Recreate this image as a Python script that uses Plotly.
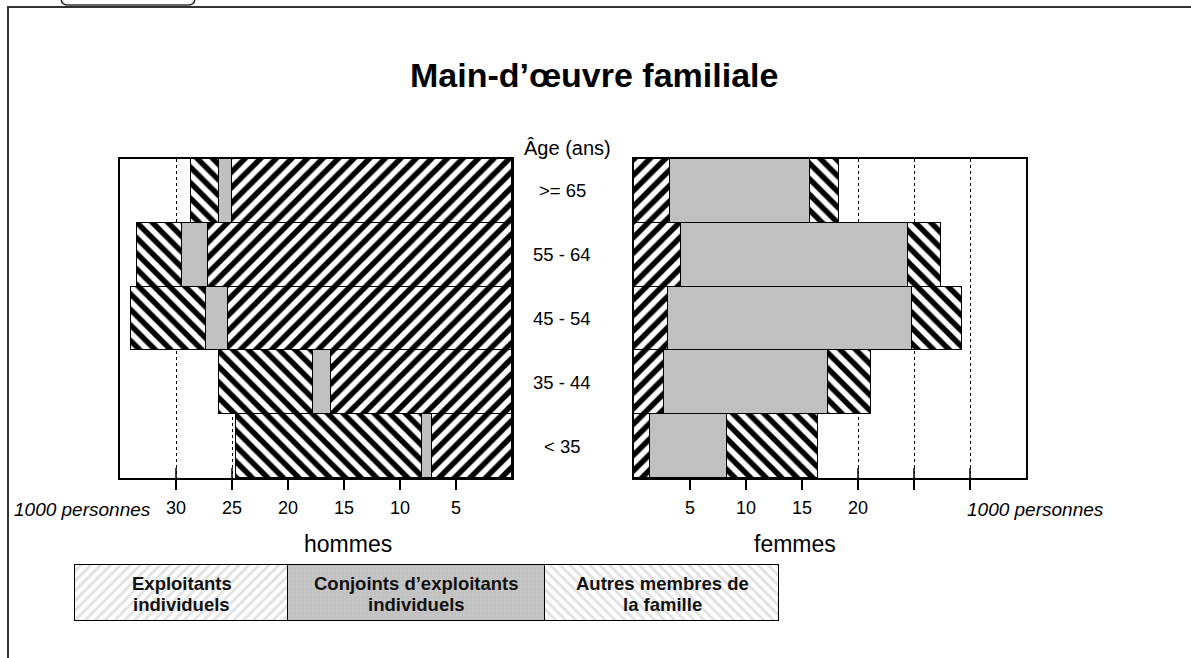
import plotly.graph_objects as go

W, H = 1191, 658

# ---------------- data (1000 personnes) ----------------
ages = ["< 35", "35 - 44", "45 - 54", "55 - 64", ">= 65"]
hommes_exploitants = [7.1, 16.2, 25.4, 27.1, 25.0]
hommes_conjoints = [0.9, 1.6, 1.9, 2.4, 1.2]
hommes_autres = [16.6, 8.4, 6.7, 4.0, 2.5]
femmes_exploitants = [1.4, 2.7, 3.0, 4.2, 3.2]
femmes_conjoints = [6.9, 14.6, 21.8, 20.3, 12.5]
femmes_autres = [8.1, 3.9, 4.5, 2.9, 2.6]

tick_vals = [5, 10, 15, 20, 25, 30]
hommes_tick_text = ["5", "10", "15", "20", "25", "30"]
femmes_tick_text = ["5", "10", "15", "20", "", ""]

legend_lines = [["Exploitants", "individuels"],
                ["Conjoints d\u2019exploitants", "individuels"],
                ["Autres membres de", "la famille"]]
legend_widths = [213, 257, 234]

FONT = "Liberation Sans, Arial, Helvetica, sans-serif"


def px(x):
    return x / W


def py(y):
    return 1 - y / H


fig = go.Figure()

hatch_fwd = dict(shape="/", fgcolor="black", bgcolor="white", size=11, solidity=0.5, fgopacity=1)
hatch_bwd = dict(shape="\\", fgcolor="black", bgcolor="white", size=11, solidity=0.5, fgopacity=1)
line = dict(color="black", width=1.5)

series = [
    ("Exploitants individuels", hommes_exploitants, femmes_exploitants, dict(pattern=hatch_fwd)),
    ("Conjoints d'exploitants individuels", hommes_conjoints, femmes_conjoints, dict(color="#c0c0c0")),
    ("Autres membres de la famille", hommes_autres, femmes_autres, dict(pattern=hatch_bwd)),
]

for name, hv, fv, style in series:
    fig.add_trace(go.Bar(y=ages, x=hv, orientation="h", name=name, xaxis="x", yaxis="y",
                         marker=dict(line=line, **style), showlegend=False, hoverinfo="skip"))
    fig.add_trace(go.Bar(y=ages, x=fv, orientation="h", name=name, xaxis="x2", yaxis="y2",
                         marker=dict(line=line, **style), showlegend=False, hoverinfo="skip"))

# legend as a patterned bar strip
leg_styles = [
    dict(pattern=dict(shape="/", fgcolor="#c4c4c4", bgcolor="white", size=7, solidity=0.4)),
    dict(pattern=dict(shape="+", fgcolor="#a4a4a4", bgcolor="#c6c6c6", size=4, solidity=0.15)),
    dict(pattern=dict(shape="\\", fgcolor="#c4c4c4", bgcolor="white", size=7, solidity=0.4)),
]
for lines_, wv, st in zip(legend_lines, legend_widths, leg_styles):
    fig.add_trace(go.Bar(y=["leg"], x=[wv], orientation="h", xaxis="x3", yaxis="y3",
                         marker=dict(line=line, **st), width=1,
                         showlegend=False, hoverinfo="skip"))

y_dom = [py(478), py(159)]
axis_common = dict(showline=True, mirror=True, linecolor="black", linewidth=1.5,
                   showgrid=True, gridcolor="black", griddash="dot", gridwidth=1,
                   tickvals=tick_vals, ticks="outside", ticklen=10, tickwidth=1.5,
                   tickcolor="black", zeroline=False, fixedrange=True,
                   tickfont=dict(family=FONT, size=18, color="black"),
                   ticklabelstandoff=3)
yaxis_common = dict(showline=True, mirror=True, linecolor="black", linewidth=1.5,
                    showgrid=False, showticklabels=False, ticks="", domain=y_dom,
                    categoryorder="array", categoryarray=ages, fixedrange=True)

leg_pad = 2  # px so that the cell borders are not clipped
fig.update_layout(
    width=W, height=H,
    margin=dict(l=0, r=0, t=0, b=0),
    paper_bgcolor="white", plot_bgcolor="white",
    barmode="stack", bargap=0,
    xaxis=dict(domain=[px(120), px(512)], range=[35, 0], ticktext=hommes_tick_text, **axis_common),
    yaxis=dict(anchor="x", **yaxis_common),
    xaxis2=dict(domain=[px(634), px(1026)], range=[0, 35], ticktext=femmes_tick_text, **axis_common),
    yaxis2=dict(anchor="x2", **yaxis_common),
    xaxis3=dict(domain=[px(75 - leg_pad), px(779 + leg_pad)],
                range=[-leg_pad, sum(legend_widths) + leg_pad], visible=False, fixedrange=True),
    yaxis3=dict(domain=[py(621 + leg_pad), py(565 - leg_pad)], anchor="x3",
                range=[-0.5 - leg_pad / 56, 0.5 + leg_pad / 56], visible=False, fixedrange=True),
    font=dict(family=FONT, color="black"),
)

# inner part of the tick marks
shapes = []
for v in tick_vals:
    for xr, yr in (("x", "y domain"), ("x2", "y2 domain")):
        shapes.append(dict(type="line", xref=xr, yref=yr, x0=v, x1=v, y0=0, y1=10 / 319,
                           line=dict(color="black", width=1.5), layer="below"))

# page frame
shapes.append(dict(type="path", xref="paper", yref="paper",
                   path=f"M {px(8)},{py(660)} L {px(8)},{py(7)} L {px(1195)},{py(7)}",
                   line=dict(color="#333333", width=2)))
# tab at top left
shapes.append(dict(type="path", xref="paper", yref="paper",
                   path=(f"M {px(61)},{py(-2)} Q {px(61)},{py(5)} {px(68)},{py(5)} "
                         f"L {px(188)},{py(5)} Q {px(195)},{py(5)} {px(195)},{py(-2)}"),
                   line=dict(color="#333333", width=1.5)))
fig.update_layout(shapes=shapes)

ann = [
    dict(text="<b>Main-d\u2019\u0153uvre familiale</b>", x=px(594), y=py(75), size=34),
    dict(text="\u00c2ge (ans)", x=px(567), y=py(148), size=20),
    dict(text="hommes", x=px(348), y=py(544), size=23),
    dict(text="femmes", x=px(795), y=py(544), size=23),
    dict(text="<i>1000 personnes</i>", x=px(82), y=py(509), size=19),
    dict(text="<i>1000 personnes</i>", x=px(1035), y=py(509), size=19),
]
annotations = [dict(text=a["text"], x=a["x"], y=a["y"], xref="paper", yref="paper",
                    showarrow=False, xanchor="center", yanchor="middle",
                    font=dict(family=FONT, size=a["size"], color="black")) for a in ann]
for a in ages:
    annotations.append(dict(text=a, x=px(562), y=a, xref="paper", yref="y", showarrow=False,
                            xanchor="center", yanchor="middle",
                            font=dict(family=FONT, size=18.5, color="black")))
# legend texts
left = 75
for lines_, wv in zip(legend_lines, legend_widths):
    cx = left + wv / 2
    for k, t in enumerate(lines_):
        annotations.append(dict(text="<b>" + t + "</b>", x=px(cx), y=py(583 + 21 * k),
                                xref="paper", yref="paper", showarrow=False,
                                xanchor="center", yanchor="middle",
                                font=dict(family=FONT, size=18.5, color="#111111")))
    left += wv
fig.update_layout(annotations=annotations)

fig.write_html("out.html", config={"displayModeBar": False},
               post_script="document.body.style.margin='0';")
